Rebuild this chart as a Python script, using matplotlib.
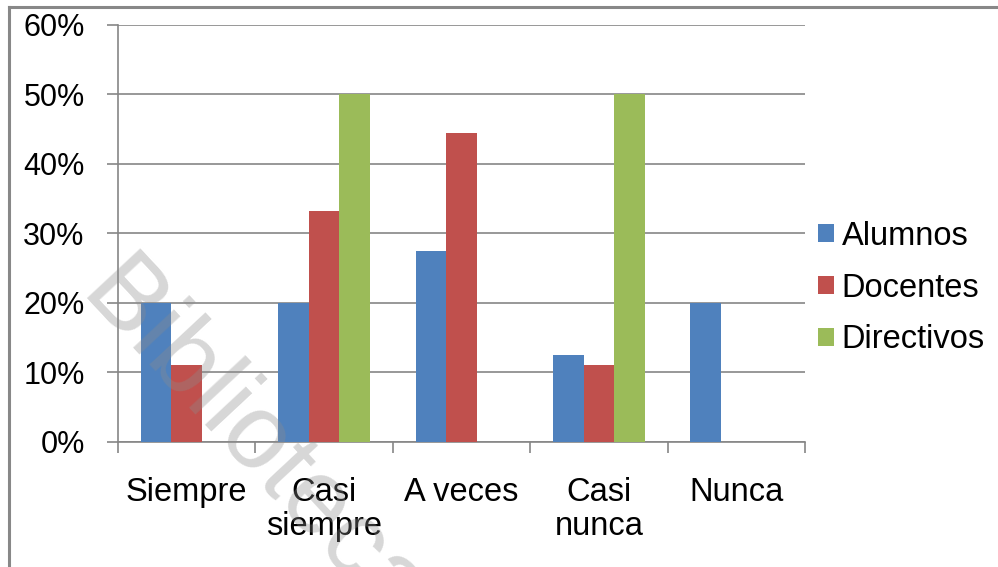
import numpy as np
import matplotlib
matplotlib.use("Agg")
import matplotlib.pyplot as plt
from matplotlib.lines import Line2D
from matplotlib.ticker import PercentFormatter

# datos (porcentajes)
categorias = ["Siempre", "Casi\nsiempre", "A veces", "Casi\nnunca", "Nunca"]
alumnos = [20.0, 20.0, 27.5, 12.5, 20.0]
docentes = [11.1, 33.3, 44.4, 11.1, 0.0]
directivos = [0.0, 50.0, 0.0, 50.0, 0.0]
series = ["Alumnos", "Docentes", "Directivos"]
colores = ["#4F81BD", "#C0504D", "#9BBB59"]

plt.rcParams['font.family'] = ['Liberation Sans', 'DejaVu Sans']

fig = plt.figure(figsize=(9.98, 5.67), dpi=100)
ax = fig.add_axes([0.1182, 0.2205, 0.6884, 0.7355])

x = np.arange(len(categorias))
ancho = 1 / 4.5  # gap de 150% como en excel
for i, (nombre, valores) in enumerate(zip(series, [alumnos, docentes, directivos])):
    ax.bar(x + (i - 1) * ancho, valores, ancho, color=colores[i], label=nombre, zorder=3)

ax.set_xlim(-0.5, len(categorias) - 0.5)
ax.set_ylim(0, 60)
ax.set_yticks(range(0, 61, 10))
ax.yaxis.set_major_formatter(PercentFormatter(decimals=0))
ax.grid(axis='y', color='#868686', linewidth=1.2, zorder=0)

# etiquetas en el centro, marcas en los limites de categoria
ax.set_xticks(x)
ax.set_xticklabels(categorias, fontsize=23.5, linespacing=1.13)
ax.set_xticks(np.arange(-0.5, len(categorias)), minor=True)
ax.tick_params(axis='x', which='major', length=0, pad=25)
ax.tick_params(axis='x', which='minor', length=8, width=1.2, color='#868686', direction='out')
ax.tick_params(axis='y', length=8, width=1.2, color='#868686', pad=16, labelsize=22)

for s in ['top', 'right']:
    ax.spines[s].set_visible(False)
for s in ['left', 'bottom']:
    ax.spines[s].set_color('#868686')
    ax.spines[s].set_linewidth(1.2)

ax.legend(loc='center left', bbox_to_anchor=(0.8196, 0.492), bbox_transform=fig.transFigure,
          frameon=False, fontsize=23.5, borderpad=0, borderaxespad=0,
          handlelength=0.5, handleheight=0.5, handletextpad=0.22, labelspacing=0.64)

# marca de agua
fig.text(0.077, 0.476, "Biblioteca", fontsize=76, color='#8c8c8c', alpha=0.35,
         rotation=-47, rotation_mode='anchor', ha='left', va='baseline', zorder=10)

# borde del grafico
fig.add_artist(Line2D([0.0095, 1.0], [0.9885, 0.9885], color='#888888', linewidth=2.2))
fig.add_artist(Line2D([0.0095, 0.0095], [0.0, 0.9885], color='#888888', linewidth=2.2))

fig.savefig("out.png", dpi=100)
